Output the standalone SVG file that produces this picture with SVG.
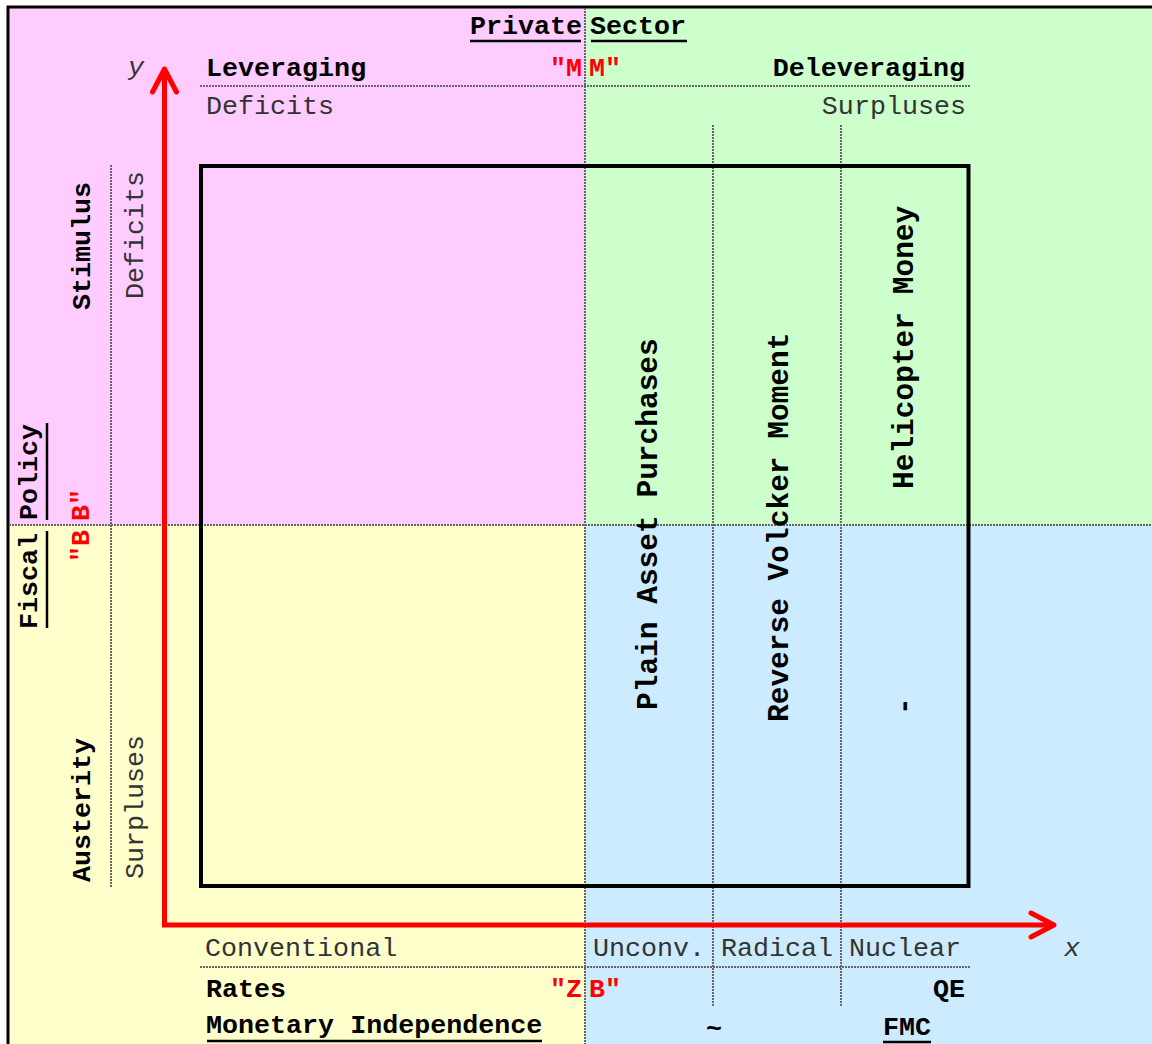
<svg xmlns="http://www.w3.org/2000/svg" width="1152" height="1044" viewBox="0 0 1152 1044">
<defs>
<style>
.t{font-family:"Courier New","Nimbus Mono PS","Liberation Mono",monospace;font-size:26.7px;fill:#333}
.b{font-family:"Courier New","Nimbus Mono PS","Liberation Mono",monospace;font-size:26.7px;font-weight:bold;fill:#000}
.r{font-family:"Courier New","Nimbus Mono PS","Liberation Mono",monospace;font-size:26.7px;font-weight:bold;fill:#ff0000}
.big{font-family:"Courier New","Nimbus Mono PS","Liberation Mono",monospace;font-size:29.5px;font-weight:bold;fill:#000}
.it{font-family:"Courier New","Nimbus Mono PS","Liberation Mono",monospace;font-size:26.7px;font-style:italic;fill:#333}
.dot{stroke:#666;stroke-width:2;stroke-dasharray:2 1;fill:none}
.ul{stroke:#000;stroke-width:2.5}
</style>
<marker id="chev" viewBox="-30 -16 34 32" markerUnits="userSpaceOnUse" markerWidth="34" markerHeight="32" refX="0" refY="0" orient="auto-start-reverse">
<path d="M-23,-12 L0,0 L-23,12" fill="none" stroke="#ff0000" stroke-width="5" stroke-linecap="round" stroke-linejoin="round"/>
</marker>
</defs>

<g id="background">
<rect x="8" y="7" width="577" height="518" fill="#ffccff"/>
<rect x="585" y="7" width="600" height="518" fill="#ccffcc"/>
<rect x="8" y="525" width="577" height="560" fill="#ffffcc"/>
<rect x="585" y="525" width="600" height="560" fill="#ccebff"/>
<rect x="8" y="7" width="1200" height="1100" fill="none" stroke="#000" stroke-width="3"/>
</g>

<g id="grid">
<line class="dot" x1="585" y1="8" x2="585" y2="1044"/>
<line class="dot" x1="9" y1="525" x2="1152" y2="525"/>
<line class="dot" x1="200" y1="86" x2="971" y2="86"/>
<line class="dot" x1="200" y1="967" x2="971" y2="967"/>
<line class="dot" x1="111" y1="165" x2="111" y2="887"/>
<line class="dot" x1="713" y1="125" x2="713" y2="1007"/>
<line class="dot" x1="841" y1="125" x2="841" y2="1007"/>
</g>

<g id="box">
<rect x="201" y="166" width="767.5" height="720" fill="none" stroke="#000" stroke-width="4"/>
</g>

<g id="connectors">
<path d="M164.5,69 L164.5,925 L1054,925" fill="none" stroke="#ff0000" stroke-width="5" stroke-linejoin="miter" marker-start="url(#chev)" marker-end="url(#chev)"/>
</g>

<g id="top-labels">
<text class="b" x="582" y="34" text-anchor="end">Private</text>
<line class="ul" x1="470" y1="41" x2="581" y2="41"/>
<text class="b" x="590" y="34">Sector</text>
<line class="ul" x1="591" y1="41" x2="687" y2="41"/>
<text class="it" x="128" y="75">y</text>
<text class="b" x="206" y="76">Leveraging</text>
<text class="r" x="582" y="76" text-anchor="end">"M</text>
<text class="r" x="589" y="76">M"</text>
<text class="b" x="965" y="76" text-anchor="end">Deleveraging</text>
<text class="t" x="206" y="114">Deficits</text>
<text class="t" x="966" y="114" text-anchor="end">Surpluses</text>
</g>

<g id="left-labels">
<text class="b" transform="translate(37,629) rotate(-90)">Fiscal</text>
<line class="ul" x1="47" y1="531" x2="47" y2="628"/>
<text class="b" transform="translate(37,520) rotate(-90)">Policy</text>
<line class="ul" x1="47" y1="423" x2="47" y2="520"/>
<text class="b" transform="translate(90,310) rotate(-90)">Stimulus</text>
<text class="t" transform="translate(143,299) rotate(-90)">Deficits</text>
<text class="r" transform="translate(89,530) rotate(-90)" text-anchor="end">"B</text>
<text class="r" transform="translate(89,521) rotate(-90)">B"</text>
<text class="b" transform="translate(90,882) rotate(-90)">Austerity</text>
<text class="t" transform="translate(143,879) rotate(-90)">Surpluses</text>
</g>

<g id="measures">
<text class="big" transform="translate(657,710) rotate(-90)">Plain Asset Purchases</text>
<text class="big" transform="translate(788,722) rotate(-90)">Reverse Volcker Moment</text>
<text class="big" transform="translate(913,489) rotate(-90)">Helicopter Money</text>
<text class="big" transform="translate(913,715) rotate(-90)">-</text>
</g>

<g id="bottom-labels">
<text class="t" x="205" y="956">Conventional</text>
<text class="t" x="593" y="956">Unconv.</text>
<text class="t" x="721" y="956">Radical</text>
<text class="t" x="849" y="956">Nuclear</text>
<text class="it" x="1064" y="956">x</text>
<text class="b" x="206" y="997">Rates</text>
<text class="r" x="582" y="997" text-anchor="end">"Z</text>
<text class="r" x="589" y="997">B"</text>
<text class="b" x="965" y="997" text-anchor="end">QE</text>
<text class="b" x="206" y="1033">Monetary Independence</text>
<line class="ul" x1="207" y1="1041" x2="542" y2="1041"/>
<text class="b" x="714" y="1037" text-anchor="middle">~</text>
<text class="b" x="907" y="1035" text-anchor="middle">FMC</text>
<line class="ul" x1="883" y1="1042" x2="931" y2="1042"/>
</g>
</svg>
